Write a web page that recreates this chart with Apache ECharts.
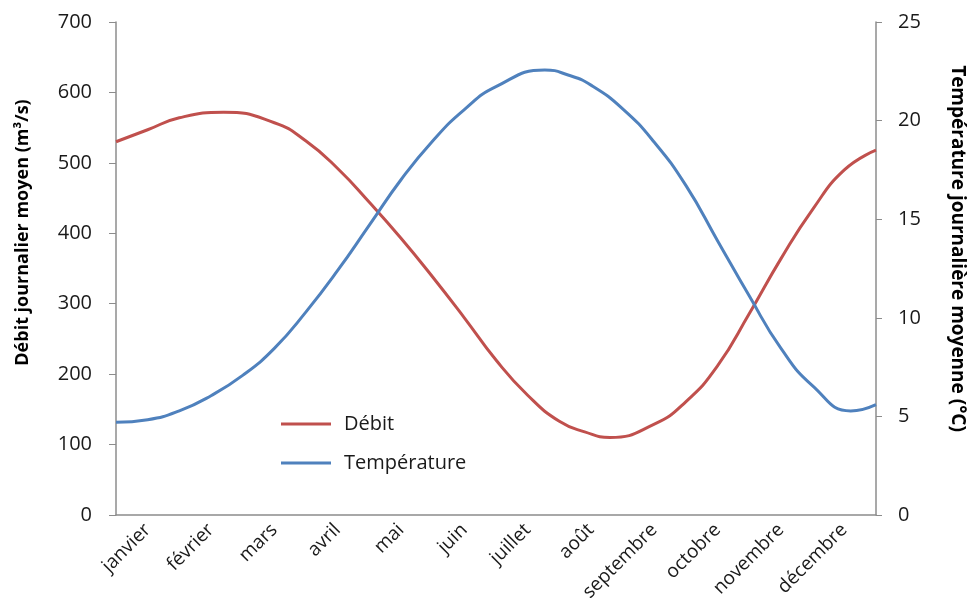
<!DOCTYPE html>
<html>
<head>
<meta charset="utf-8">
<script src="https://cdn.jsdelivr.net/npm/echarts@6/dist/echarts.min.js"></script>
<style>
  html, body { margin: 0; padding: 0; background: #fff; }
  #chart { width: 975px; height: 608px; }
</style>
</head>
<body>
<div id="chart"></div>
<script>
const months = ['janvier', 'février', 'mars', 'avril', 'mai', 'juin',
  'juillet', 'août', 'septembre', 'octobre', 'novembre', 'décembre']

// débit journalier moyen (m³/s); positions in months from 1 January
const debitPos = [0, 0.5, 1, 1.7, 2.5, 3, 3.5, 4, 4.5, 5, 5.5, 6,
  6.5, 7, 7.4, 7.8, 8.5, 9, 9.5, 10, 10.5, 11, 11.5, 12]
const debit = [530, 547, 564, 572, 557, 531, 492, 444, 393, 338, 280, 220,
  170, 133, 118, 110, 129, 161, 212, 286, 364, 434, 490, 518]

// température journalière moyenne (°C)
const tempPos = [0, 0.5, 1, 1.5, 2, 2.5, 3, 3.5, 4, 4.5, 5, 5.5, 6,
  6.77, 7.15, 7.5, 8, 8.5, 9, 9.5, 10, 10.5, 11, 11.6, 12]
const temperature = [4.7, 4.83, 5.28, 6.05, 7.08, 8.45, 10.3, 12.4, 14.7, 17.0, 18.97, 20.56, 21.72,
  22.57, 22.3, 21.8, 20.6, 18.9, 16.7, 13.9, 11.1, 8.45, 6.55, 5.28, 5.6]

const font = 'Open Sans'
const textColor = '#1a1a1a'
const axisColor = '#8c8c8c'
const red = '#C0504D'
const blue = '#4F81BD'

const pairs = (xs, ys) => xs.map((x, i) => [x, ys[i]])

const chart = echarts.init(document.getElementById('chart'))
chart.setOption({
  animation: false,
  textStyle: { fontFamily: font, color: textColor },
  grid: { left: 116, right: 94, top: 22, bottom: 93 },
  legend: {
    orient: 'vertical',
    left: 276,
    top: 409,
    itemWidth: 50,
    itemHeight: 3,
    itemGap: 19,
    icon: 'rect',
    textStyle: { fontFamily: font, fontSize: 20, color: textColor, padding: [0, 0, 0, 8] },
    data: ['Débit', 'Température'],
  },
  xAxis: [
    {
      type: 'category',
      data: months,
      boundaryGap: true,
      axisLine: { lineStyle: { color: axisColor, width: 1.5 } },
      axisTick: { length: 5, lineStyle: { color: axisColor } },
      axisLabel: { rotate: 45, margin: 12, fontSize: 19, color: textColor, interval: 0 },
      splitLine: { show: false },
    },
    {
      type: 'value',
      min: 0,
      max: 12,
      show: false,
    },
  ],
  yAxis: [
    {
      type: 'value',
      min: 0,
      max: 700,
      interval: 100,
      name: 'Débit journalier moyen (m³/s)',
      nameLocation: 'middle',
      nameRotate: 90,
      nameGap: 84,
      nameTextStyle: { fontSize: 18, fontWeight: 'bold', color: '#000', padding: [0, 0, 0, 72] },
      axisLine: { show: true, lineStyle: { color: axisColor, width: 1.5 } },
      axisTick: { show: true, length: 7, lineStyle: { color: axisColor } },
      axisLabel: { margin: 24, fontSize: 20, color: textColor },
      splitLine: { show: false },
    },
    {
      type: 'value',
      min: 0,
      max: 25,
      interval: 5,
      position: 'right',
      name: 'Température journalière moyenne (°C)',
      nameLocation: 'middle',
      nameRotate: -90,
      nameGap: 72,
      nameTextStyle: { fontSize: 19, fontWeight: 'bold', color: '#000', padding: [0, 40, 0, 0] },
      axisLine: { show: true, lineStyle: { color: axisColor, width: 1.5 } },
      axisTick: { show: true, length: 6, lineStyle: { color: axisColor } },
      axisLabel: { margin: 22, fontSize: 20, color: textColor },
      splitLine: { show: false },
    },
  ],
  series: [
    {
      name: 'Débit',
      type: 'line',
      xAxisIndex: 1,
      yAxisIndex: 0,
      data: pairs(debitPos, debit),
      smooth: 0.5,
      symbol: 'none',
      color: red,
      lineStyle: { color: red, width: 3 },
    },
    {
      name: 'Température',
      type: 'line',
      xAxisIndex: 1,
      yAxisIndex: 1,
      data: pairs(tempPos, temperature),
      smooth: 0.5,
      symbol: 'none',
      color: blue,
      lineStyle: { color: blue, width: 3 },
    },
  ],
})
</script>
</body>
</html>
